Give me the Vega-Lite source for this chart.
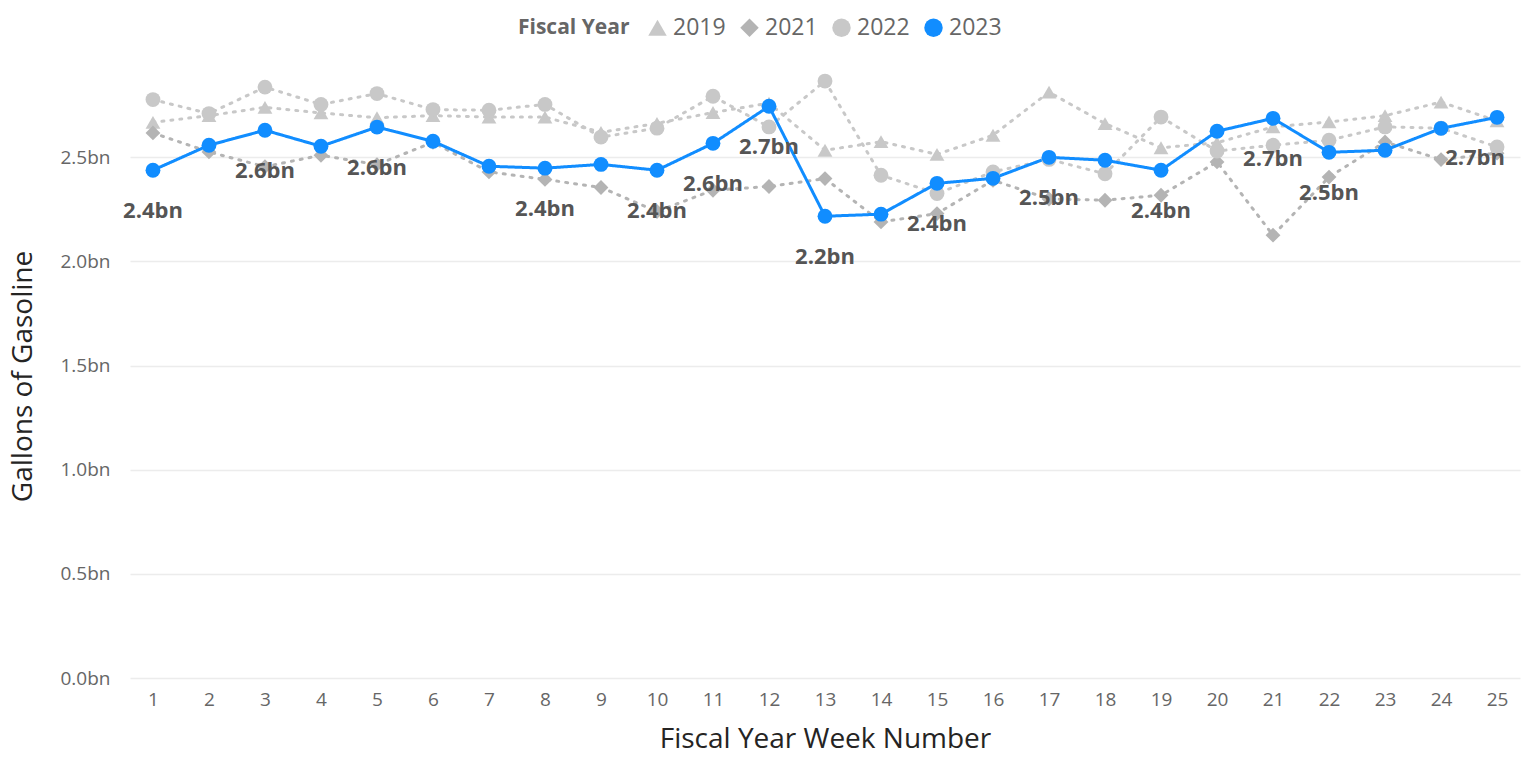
{
  "$schema": "https://vega.github.io/schema/vega-lite/v6.json",
  "width": 1390,
  "height": 604,
  "autosize": {"type": "none"},
  "padding": {"left": 130, "top": 74, "right": 12, "bottom": 96},
  "background": "white",
  "config": {
    "font": "Segoe UI, Open Sans, sans-serif",
    "view": {"stroke": null}
  },
  "data": {
    "values": [
      {"week": 1, "year": 2019, "gallons": 2668000000},
      {"week": 2, "year": 2019, "gallons": 2700000000},
      {"week": 3, "year": 2019, "gallons": 2740000000},
      {"week": 4, "year": 2019, "gallons": 2713000000},
      {"week": 5, "year": 2019, "gallons": 2690000000},
      {"week": 6, "year": 2019, "gallons": 2700000000},
      {"week": 7, "year": 2019, "gallons": 2693000000},
      {"week": 8, "year": 2019, "gallons": 2693000000},
      {"week": 9, "year": 2019, "gallons": 2620000000},
      {"week": 10, "year": 2019, "gallons": 2663000000},
      {"week": 11, "year": 2019, "gallons": 2715000000},
      {"week": 12, "year": 2019, "gallons": 2760000000},
      {"week": 13, "year": 2019, "gallons": 2534000000},
      {"week": 14, "year": 2019, "gallons": 2575000000},
      {"week": 15, "year": 2019, "gallons": 2514000000},
      {"week": 16, "year": 2019, "gallons": 2606000000},
      {"week": 17, "year": 2019, "gallons": 2813000000},
      {"week": 18, "year": 2019, "gallons": 2662000000},
      {"week": 19, "year": 2019, "gallons": 2546000000},
      {"week": 20, "year": 2019, "gallons": 2570000000},
      {"week": 21, "year": 2019, "gallons": 2646000000},
      {"week": 22, "year": 2019, "gallons": 2670000000},
      {"week": 23, "year": 2019, "gallons": 2700000000},
      {"week": 24, "year": 2019, "gallons": 2765000000},
      {"week": 25, "year": 2019, "gallons": 2675000000},
      {"week": 1, "year": 2021, "gallons": 2617000000},
      {"week": 2, "year": 2021, "gallons": 2526000000},
      {"week": 3, "year": 2021, "gallons": 2455000000},
      {"week": 4, "year": 2021, "gallons": 2510000000},
      {"week": 5, "year": 2021, "gallons": 2465000000},
      {"week": 6, "year": 2021, "gallons": 2572000000},
      {"week": 7, "year": 2021, "gallons": 2430000000},
      {"week": 8, "year": 2021, "gallons": 2394000000},
      {"week": 9, "year": 2021, "gallons": 2355000000},
      {"week": 10, "year": 2021, "gallons": 2240000000},
      {"week": 11, "year": 2021, "gallons": 2342000000},
      {"week": 12, "year": 2021, "gallons": 2360000000},
      {"week": 13, "year": 2021, "gallons": 2398000000},
      {"week": 14, "year": 2021, "gallons": 2190000000},
      {"week": 15, "year": 2021, "gallons": 2230000000},
      {"week": 16, "year": 2021, "gallons": 2390000000},
      {"week": 17, "year": 2021, "gallons": 2300000000},
      {"week": 18, "year": 2021, "gallons": 2294000000},
      {"week": 19, "year": 2021, "gallons": 2318000000},
      {"week": 20, "year": 2021, "gallons": 2478000000},
      {"week": 21, "year": 2021, "gallons": 2126000000},
      {"week": 22, "year": 2021, "gallons": 2405000000},
      {"week": 23, "year": 2021, "gallons": 2574000000},
      {"week": 24, "year": 2021, "gallons": 2489000000},
      {"week": 25, "year": 2021, "gallons": 2520000000},
      {"week": 1, "year": 2022, "gallons": 2777000000},
      {"week": 2, "year": 2022, "gallons": 2710000000},
      {"week": 3, "year": 2022, "gallons": 2837000000},
      {"week": 4, "year": 2022, "gallons": 2754000000},
      {"week": 5, "year": 2022, "gallons": 2806000000},
      {"week": 6, "year": 2022, "gallons": 2729000000},
      {"week": 7, "year": 2022, "gallons": 2726000000},
      {"week": 8, "year": 2022, "gallons": 2754000000},
      {"week": 9, "year": 2022, "gallons": 2597000000},
      {"week": 10, "year": 2022, "gallons": 2640000000},
      {"week": 11, "year": 2022, "gallons": 2793000000},
      {"week": 12, "year": 2022, "gallons": 2646000000},
      {"week": 13, "year": 2022, "gallons": 2866000000},
      {"week": 14, "year": 2022, "gallons": 2414000000},
      {"week": 15, "year": 2022, "gallons": 2326000000},
      {"week": 16, "year": 2022, "gallons": 2430000000},
      {"week": 17, "year": 2022, "gallons": 2490000000},
      {"week": 18, "year": 2022, "gallons": 2421000000},
      {"week": 19, "year": 2022, "gallons": 2693000000},
      {"week": 20, "year": 2022, "gallons": 2530000000},
      {"week": 21, "year": 2022, "gallons": 2558000000},
      {"week": 22, "year": 2022, "gallons": 2582000000},
      {"week": 23, "year": 2022, "gallons": 2646000000},
      {"week": 24, "year": 2022, "gallons": 2640000000},
      {"week": 25, "year": 2022, "gallons": 2550000000},
      {"week": 1, "year": 2023, "gallons": 2438000000},
      {"week": 2, "year": 2023, "gallons": 2558000000},
      {"week": 3, "year": 2023, "gallons": 2630000000},
      {"week": 4, "year": 2023, "gallons": 2553000000},
      {"week": 5, "year": 2023, "gallons": 2645000000},
      {"week": 6, "year": 2023, "gallons": 2577000000},
      {"week": 7, "year": 2023, "gallons": 2457000000},
      {"week": 8, "year": 2023, "gallons": 2448000000},
      {"week": 9, "year": 2023, "gallons": 2466000000},
      {"week": 10, "year": 2023, "gallons": 2438000000},
      {"week": 11, "year": 2023, "gallons": 2567000000},
      {"week": 12, "year": 2023, "gallons": 2745000000},
      {"week": 13, "year": 2023, "gallons": 2217000000},
      {"week": 14, "year": 2023, "gallons": 2227000000},
      {"week": 15, "year": 2023, "gallons": 2375000000},
      {"week": 16, "year": 2023, "gallons": 2399000000},
      {"week": 17, "year": 2023, "gallons": 2500000000},
      {"week": 18, "year": 2023, "gallons": 2486000000},
      {"week": 19, "year": 2023, "gallons": 2438000000},
      {"week": 20, "year": 2023, "gallons": 2625000000},
      {"week": 21, "year": 2023, "gallons": 2687000000},
      {"week": 22, "year": 2023, "gallons": 2524000000},
      {"week": 23, "year": 2023, "gallons": 2534000000},
      {"week": 24, "year": 2023, "gallons": 2639000000},
      {"week": 25, "year": 2023, "gallons": 2692000000}
    ]
  },
  "encoding": {
    "x": {
      "field": "week",
      "type": "ordinal",
      "scale": {"type": "point", "padding": 0.41},
      "axis": {
        "labelAngle": 0,
        "ticks": false,
        "domain": false,
        "grid": false,
        "labelFontSize": 19,
        "labelColor": "#666666",
        "labelPadding": 12,
        "title": "Fiscal Year Week Number",
        "titleFontSize": 28,
        "titleFontWeight": "normal",
        "titleColor": "#252423",
        "titlePadding": 16
      }
    },
    "y": {
      "field": "gallons",
      "type": "quantitative",
      "scale": {"domain": [0, 2900000000], "nice": false, "zero": true},
      "axis": {
        "values": [0, 500000000, 1000000000, 1500000000, 2000000000, 2500000000],
        "labelExpr": "format(datum.value/1e9, '.1f') + 'bn'",
        "ticks": false,
        "domain": false,
        "gridColor": "#ececec",
        "gridWidth": 1.5,
        "labelFontSize": 19,
        "labelColor": "#666666",
        "labelPadding": 20,
        "title": "Gallons of Gasoline",
        "titleFontSize": 28,
        "titleFontWeight": "normal",
        "titleColor": "#252423",
        "titleX": -93
      }
    }
  },
  "layer": [
    {
      "mark": {"type": "line", "strokeWidth": 3, "strokeCap": "round"},
      "encoding": {
        "color": {
          "field": "year",
          "type": "nominal",
          "scale": {"domain": [2019, 2021, 2022, 2023], "range": ["#c8c8c8", "#b4b4b4", "#c8c8c8", "#118dff"]},
          "legend": {"title": "Fiscal Year"}
        },
        "strokeDash": {
          "field": "year",
          "type": "nominal",
          "scale": {"domain": [2019, 2021, 2022, 2023], "range": [[2, 7], [2, 7], [2, 7], [1, 0]]},
          "legend": null
        }
      }
    },
    {
      "mark": {"type": "point", "filled": true, "opacity": 1, "size": 220},
      "encoding": {
        "color": {
          "field": "year",
          "type": "nominal",
          "scale": {"domain": [2019, 2021, 2022, 2023], "range": ["#c8c8c8", "#b4b4b4", "#c8c8c8", "#118dff"]},
          "legend": {
            "title": "Fiscal Year",
            "orient": "none",
            "direction": "horizontal",
            "legendX": 388,
            "legendY": -58,
            "titleOrient": "left",
            "titleFontSize": 21,
            "titleFontWeight": "bold",
            "titleColor": "#666666",
            "labelFontSize": 23,
            "labelColor": "#666666",
            "symbolSize": 340,
            "symbolStrokeWidth": 0,
            "columnPadding": 12,
            "labelOffset": 4,
            "titlePadding": 16
          }
        },
        "shape": {
          "field": "year",
          "type": "nominal",
          "scale": {"domain": [2019, 2021, 2022, 2023], "range": ["triangle-up", "diamond", "circle", "circle"]},
          "legend": {"title": "Fiscal Year"}
        }
      }
    },
    {
      "transform": [
        {"filter": {"field": "year", "equal": 2023}},
        {"filter": {"field": "week", "oneOf": [1, 3, 5, 8, 10, 11, 12, 13, 15, 17, 19, 21, 22, 25]}}
      ],
      "mark": {
        "type": "text",
        "fontWeight": "bold",
        "fontSize": 22,
        "color": "#555555",
        "dy": 41,
        "dx": {"expr": "datum.week == 25 ? -22 : 0"},
        "text": {"expr": "format(datum.gallons/1e9, '.1f') + 'bn'"}
      }
    }
  ]
}
